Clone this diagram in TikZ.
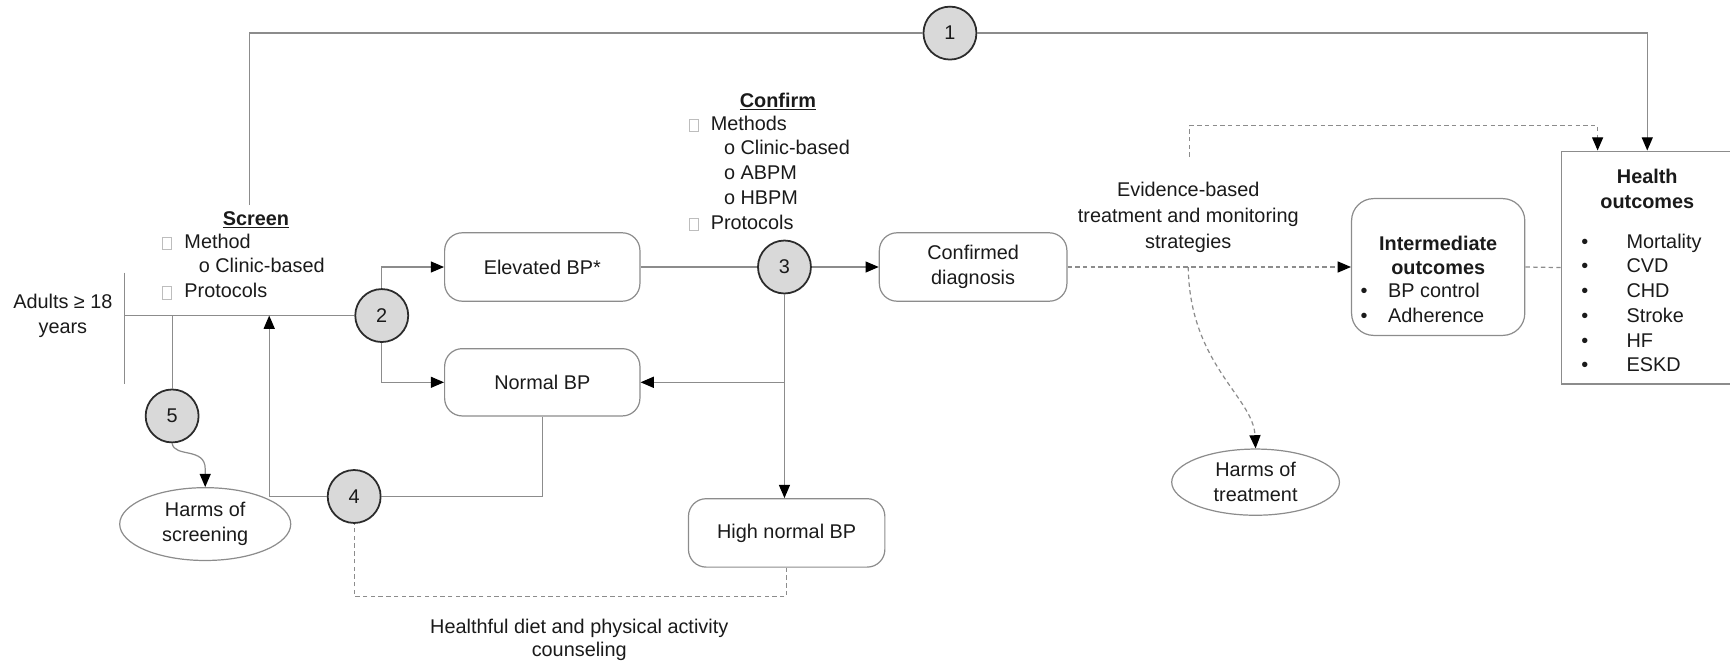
\documentclass[tikz,border=0pt]{standalone}
\usepackage{fontspec}
\setmainfont{Liberation Sans}
\usetikzlibrary{arrows.meta,shapes.geometric,calc}
\definecolor{linegray}{HTML}{8C8C8C}
\definecolor{circfill}{HTML}{D9D9D9}
\definecolor{circdraw}{HTML}{2B2B2B}
\definecolor{txt}{HTML}{1A1A1A}
\definecolor{sqgray}{HTML}{BDBDBD}
\newcommand{\sqmark}[1]{\makebox[#1][l]{\hspace*{0.5pt}\raisebox{-1pt}{\color{sqgray}\setlength{\fboxrule}{0.8pt}\setlength{\fboxsep}{0pt}\fbox{\rule{0pt}{10.5pt}\rule{7.5pt}{0pt}}}}}
\begin{document}
\begin{tikzpicture}[x=1pt,y=-1pt,
  every node/.style={font=\fontsize{18}{22.4}\selectfont, text=txt},
  >={Triangle[length=12pt,width=10pt,color=black]},
  line/.style={draw=linegray, line width=1.1pt},
  dline/.style={line, dash pattern=on 4pt off 3pt},
  circ/.style={circle, draw=circdraw, fill=circfill, line width=1.6pt, minimum size=48pt, inner sep=0pt},
  rbox/.style={rectangle, rounded corners=16pt, draw=linegray, line width=1.1pt, align=center, inner sep=0pt},
  sbox/.style={rectangle, draw=linegray, line width=1.1pt, inner sep=0pt},
  ell/.style={ellipse, draw=linegray, line width=1.1pt, align=center, inner sep=0pt},
  list/.style={anchor=base west, inner sep=0pt}
]
\useasboundingbox (0,0) rectangle (1568,602);

% circles
\node[circ] (c1) at (861,30) {1};
\node[circ] (c2) at (346,286) {2};
\node[circ] (c3) at (711,242) {3};
\node[circ] (c4) at (321,450) {4};
\node[circ] (c5) at (156,377) {5};

% boxes
\node[rbox, minimum width=177pt, minimum height=62pt] (elev) at (491.5,242) {Elevated BP*};
\node[rbox, minimum width=177pt, minimum height=61pt] (norm) at (491.5,346.5) {Normal BP};
\node[rbox, minimum width=170pt, minimum height=62pt] (conf) at (882,242) {Confirmed\\diagnosis};
\node[rbox, minimum width=178pt, minimum height=62pt] (high) at (713,483) {High normal BP};
\node[rbox, rounded corners=20pt, minimum width=157pt, minimum height=124pt] (inter) at (1303.5,242) {};
\node[sbox, minimum width=160pt, minimum height=211pt] (health) at (1495,242.5) {};

% ellipses
\node[ell, minimum width=155pt, minimum height=66pt] (hs) at (186,475) {Harms of\\screening};
\node[ell, minimum width=152pt, minimum height=60pt] (ht) at (1138,437) {Harms of\\treatment};

% texts
\node[align=center] (adults) at (57,286) {Adults ≥ 18\\years};
\node[anchor=base] (scrhead) at (232,204) {\textbf{\underline{Screen}}};
\node[list] (scrlist) at (146,225) {\begin{tabular}[t]{@{}l@{}}
\sqmark{21pt}Method\\
\hspace*{34pt}o Clinic-based\\
\sqmark{21pt}Protocols
\end{tabular}};
\node[anchor=base] (confhead) at (705,97) {\textbf{\underline{Confirm}}};
\node[list] (conflist) at (624,118) {\begin{tabular}[t]{@{}l@{}}
\sqmark{20pt}Methods\\
\hspace*{32pt}o Clinic-based\\
\hspace*{32pt}o ABPM\\
\hspace*{32pt}o HBPM\\
\sqmark{20pt}Protocols
\end{tabular}};
\node[align=center, font=\fontsize{18}{23.5}\selectfont] (evid) at (1077,197) {Evidence-based\\treatment and monitoring\\strategies};
\node[align=center, font=\fontsize{18}{21}\selectfont] (diet) at (525,580) {Healthful diet and physical activity\\counseling};
\node[align=center] (ititle) at (1303.5,231.5) {\textbf{Intermediate}\\\textbf{outcomes}};
\node[list] (ilist) at (1233,270) {\begin{tabular}[t]{@{}l@{}}
\makebox[25pt][l]{\textbullet}BP control\\
\makebox[25pt][l]{\textbullet}Adherence
\end{tabular}};
\node[align=center] (htitle) at (1493,171.5) {\textbf{Health}\\\textbf{outcomes}};
\node[list] (hlist) at (1433,225) {\begin{tabular}[t]{@{}l@{}}
\makebox[41pt][l]{\textbullet}Mortality\\
\makebox[41pt][l]{\textbullet}CVD\\
\makebox[41pt][l]{\textbullet}CHD\\
\makebox[41pt][l]{\textbullet}Stroke\\
\makebox[41pt][l]{\textbullet}HF\\
\makebox[41pt][l]{\textbullet}ESKD
\end{tabular}};

% coordinates
\coordinate (vtop) at (113,247);
\coordinate (vbot) at (113,348);
\coordinate (spine) at (113,286);
\coordinate (s1) at (226,186);
\coordinate (hsol) at ($(health.north)+(-2,0)$);
\coordinate (hdash) at ($(health.north)+(-47,0)$);
\coordinate (evtop) at (1078,142);
\coordinate (evbot) at (1077,242);
\coordinate (br) at (c3 |- norm);
\coordinate (up) at (244,286);

% connectors
\draw[line] (vtop) -- (vbot);
\draw[line] (spine) -- (c2.west);
\draw[line] (c5.north) -- (c5.north |- spine);
\draw[line] (s1) |- (c1.west);
\draw[line,->] (c1.east) -| (hsol);
\draw[dline,->] (evtop) -- ++(0,-28) -| (hdash);
\draw[line,->] (c2.north) |- (elev.west);
\draw[line,->] (c2.south) |- (norm.west);
\draw[line] (elev.east) -- (c3.west);
\draw[line,->] (c3.east) -- (conf.west);
\draw[line,->] (c3.south) -- (c3.south |- high.north);
\draw[line,->] (br) -- (norm.east);
\draw[line] (norm.south) |- (c4.east);
\draw[line,->] (c4.west) -| (up);
\draw[dline] (high.south) -- ++(0,26) -| (c4.south);
\draw[line,->] (c5.south) .. controls (158,415) and (186,405) .. (186,425) -- (hs.north);
\draw[dline,->] (conf.east) -- (inter.west);
\draw[dline,->] (evbot) .. controls (1078,330) and (1136,360) .. (ht.north);
\draw[dline] (inter.east) -- (health.west);
\end{tikzpicture}
\end{document}
